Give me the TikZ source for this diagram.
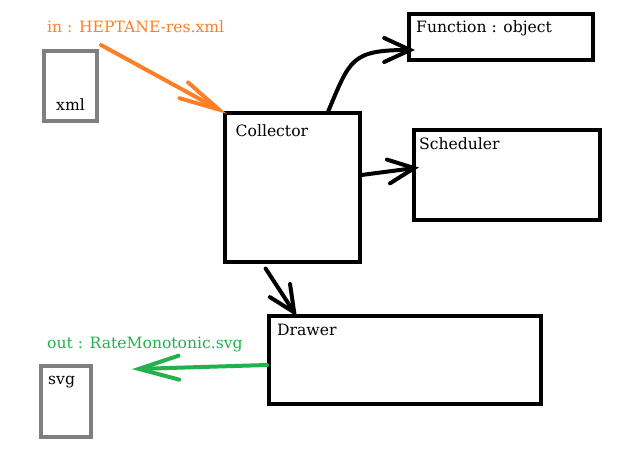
\documentclass[tikz,border=0pt]{standalone}
\usepackage{fontspec}
\setmainfont{DejaVu Serif}
\usetikzlibrary{arrows.meta,calc}
\definecolor{paintorange}{HTML}{FF7F27}
\definecolor{paintgreen}{HTML}{22B14C}
\definecolor{filegray}{HTML}{7F7F7F}
\tikzset{
  flowbox/.style={draw=black,line width=4pt,inner sep=0pt},
  filebox/.style={draw=filegray,line width=4pt,inner sep=0pt},
  boxlabel/.style={inner sep=0pt,font=\fontsize{15.6}{18}\selectfont},
  iolabel/.style={inner sep=0pt,font=\fontsize{15.6}{18}\selectfont},
  callarr/.style={-{Straight Barb[length=26pt,width=24pt,line cap=round]},line width=4pt,line cap=round,shorten >=-4pt},
  inarr/.style={-{Straight Barb[length=40pt,width=18pt,line cap=round]},line width=4pt,line cap=round,color=paintorange,shorten >=-5pt},
  outarr/.style={-{Straight Barb[length=40pt,width=24pt,line cap=round]},line width=4pt,line cap=round,color=paintgreen,shorten >=-4pt}
}
\begin{document}
\begin{tikzpicture}[x=1pt,y=1pt]
  \useasboundingbox[fill=white] (0,0) rectangle (619,453);
  % ---- input file ----
  \node[filebox,minimum width=53pt,minimum height=70pt] (xml) at (70.5,367) {};
  \node[boxlabel,anchor=base] (xmllbl) at ([yshift=12pt]xml.south) {xml};
  \node[iolabel,anchor=base west,text=paintorange] (inlbl) at (47,420) {in : HEPTANE-res.xml};
  \coordinate (instart) at (101,408);
  % ---- collector and its modules ----
  \node[flowbox,minimum width=135pt,minimum height=149pt] (collector) at (292,265) {};
  \node[boxlabel,anchor=base west] (collectorlbl) at ([shift={(13pt,-25.5pt)}]collector.north west) {Collector};
  \node[flowbox,minimum width=184pt,minimum height=46pt] (function) at (501,416) {};
  \node[boxlabel,anchor=base west] (functionlbl) at ([shift={(9pt,-21pt)}]function.north west) {Function : object};
  \node[flowbox,minimum width=186pt,minimum height=90pt] (scheduler) at (507,278) {};
  \node[boxlabel,anchor=base west] (schedulerlbl) at ([shift={(7pt,-22pt)}]scheduler.north west) {Scheduler};
  \node[flowbox,minimum width=272pt,minimum height=88pt] (drawer) at (405,93) {};
  \node[boxlabel,anchor=base west] (drawerlbl) at ([shift={(10pt,-22pt)}]drawer.north west) {Drawer};
  % ---- output file ----
  \node[filebox,minimum width=50pt,minimum height=71pt] (svg) at (66,51.5) {};
  \node[boxlabel,anchor=base west] (svglbl) at ([shift={(9pt,-21pt)}]svg.north west) {svg};
  \node[iolabel,anchor=base west,text=paintgreen] (outlbl) at (47,104) {out : RateMonotonic.svg};
  \coordinate (outtip) at (136,84);
  % ---- connectors ----
  \draw[inarr] (instart) -- (collector.north west);
  \draw[callarr] ($(collector.north west)!0.76!(collector.north east)$)
    .. controls +(22,52) and +(-60,0) .. ([shift={(4pt,-13pt)}]function.west);
  \draw[callarr] ([yshift=13pt]collector.east) -- ([shift={(3pt,7pt)}]scheduler.west);
  \draw[callarr] ($(collector.south west)!0.31!(collector.south east)+(0,-4pt)$)
    -- ($(drawer.north west)!0.10!(drawer.north east)+(0,1pt)$);
  \draw[outarr] ([yshift=-5pt]drawer.west) -- (outtip);
\end{tikzpicture}
\end{document}
